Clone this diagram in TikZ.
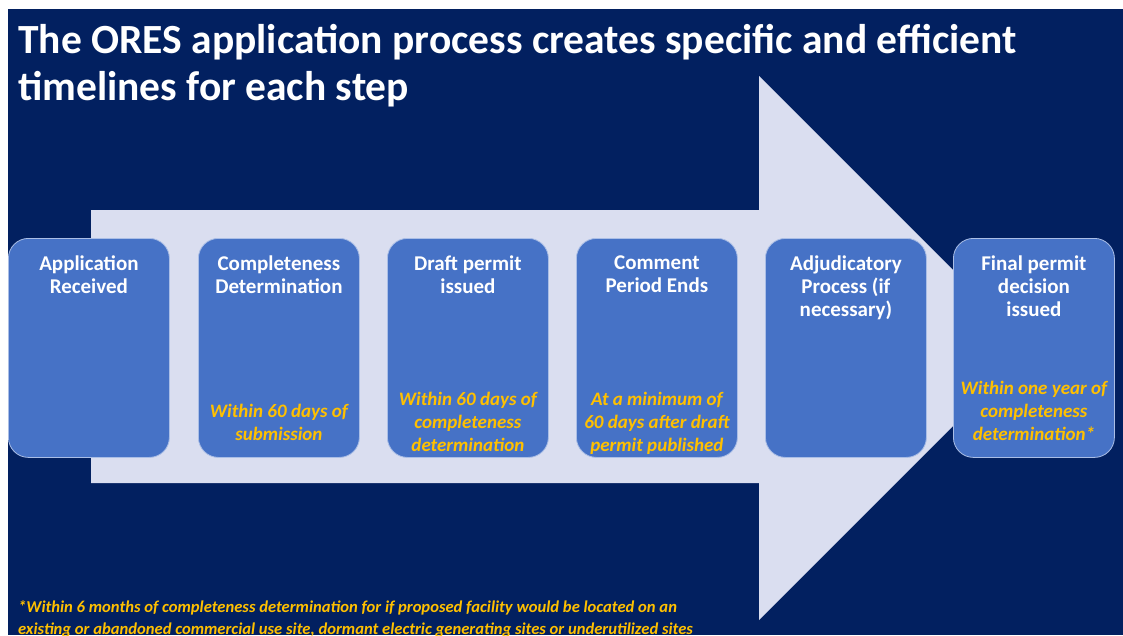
\documentclass[tikz,border=0pt]{standalone}
\usepackage{fontspec}
\setmainfont{Carlito}
\definecolor{navy}{RGB}{2,32,96}
\definecolor{arrowc}{RGB}{218,222,240}
\definecolor{boxc}{RGB}{70,114,198}
\definecolor{boxline}{RGB}{170,190,230}
\definecolor{gold}{RGB}{255,192,0}
\begin{document}
\begin{tikzpicture}[x=1pt,y=-1pt,
  stepbox/.style={draw=boxline,line width=0.8pt,fill=boxc,rounded corners=20pt,
    minimum width=161pt,minimum height=219pt,inner sep=0pt,anchor=north west},
  head/.style={text=white,font=\bfseries\fontsize{21}{23}\selectfont,align=center,anchor=north,inner sep=0pt},
  note/.style={text=gold,font=\bfseries\itshape\fontsize{19}{23}\selectfont,align=center,anchor=north,inner sep=0pt},
  title/.style={text=white,font=\bfseries\fontsize{41.5}{47}\selectfont,align=left,anchor=north west,inner sep=0pt},
  foot/.style={text=gold,font=\bfseries\itshape\fontsize{16.6}{22}\selectfont,align=left,anchor=north west,inner sep=0pt}]
\useasboundingbox (0,0) rectangle (1123,635);
\fill[white] (0,0) rectangle (1123,635);
\fill[navy] (8,9) rectangle (1123,635);
% big arrow
\fill[arrowc] (91,210) -- (759,210) -- (759,76) -- (1031,348) -- (759,620) -- (759,483) -- (91,483) -- cycle;
% title
\node[title] (t) at (18,24) {The ORES application process creates specific and efficient\\timelines for each step};
% boxes
\node[stepbox] (b1) at (8,238) {};
\node[stepbox] (b2) at (198,238) {};
\node[stepbox] (b3) at (387,238) {};
\node[stepbox] (b4) at (576,238) {};
\node[stepbox] (b5) at (765,238) {};
\node[stepbox] (b6) at (953,238) {};
% headings
\node[head] (h1) at ([yshift=-18pt]b1.north) {Application\\Received};
\node[head] (h2) at ([yshift=-18pt]b2.north) {Completeness\\Determination};
\node[head] (h3) at ([yshift=-18pt]b3.north) {Draft permit\\issued};
\node[head] (h4) at ([yshift=-18pt]b4.north) {Comment\\Period Ends};
\node[head] (h5) at ([yshift=-18pt]b5.north) {Adjudicatory\\Process (if\\necessary)};
\node[head] (h6) at ([yshift=-18pt]b6.north) {Final permit\\decision\\issued};
% notes
\node[note] (n2) at ([yshift=-166pt]b2.north) {Within 60 days of\\submission};
\node[note] (n3) at ([yshift=-154pt]b3.north) {Within 60 days of\\completeness\\determination};
\node[note] (n4) at ([yshift=-154pt]b4.north) {At a minimum of\\60 days after draft\\permit published};
\node[note] (n6) at ([yshift=-143pt]b6.north) {Within one year of\\completeness\\determination*};
% footnote
\node[foot] (f) at (18,600) {*Within 6 months of completeness determination for if proposed facility would be located on an\\existing or abandoned commercial use site, dormant electric generating sites or underutilized sites};
\end{tikzpicture}
\end{document}
